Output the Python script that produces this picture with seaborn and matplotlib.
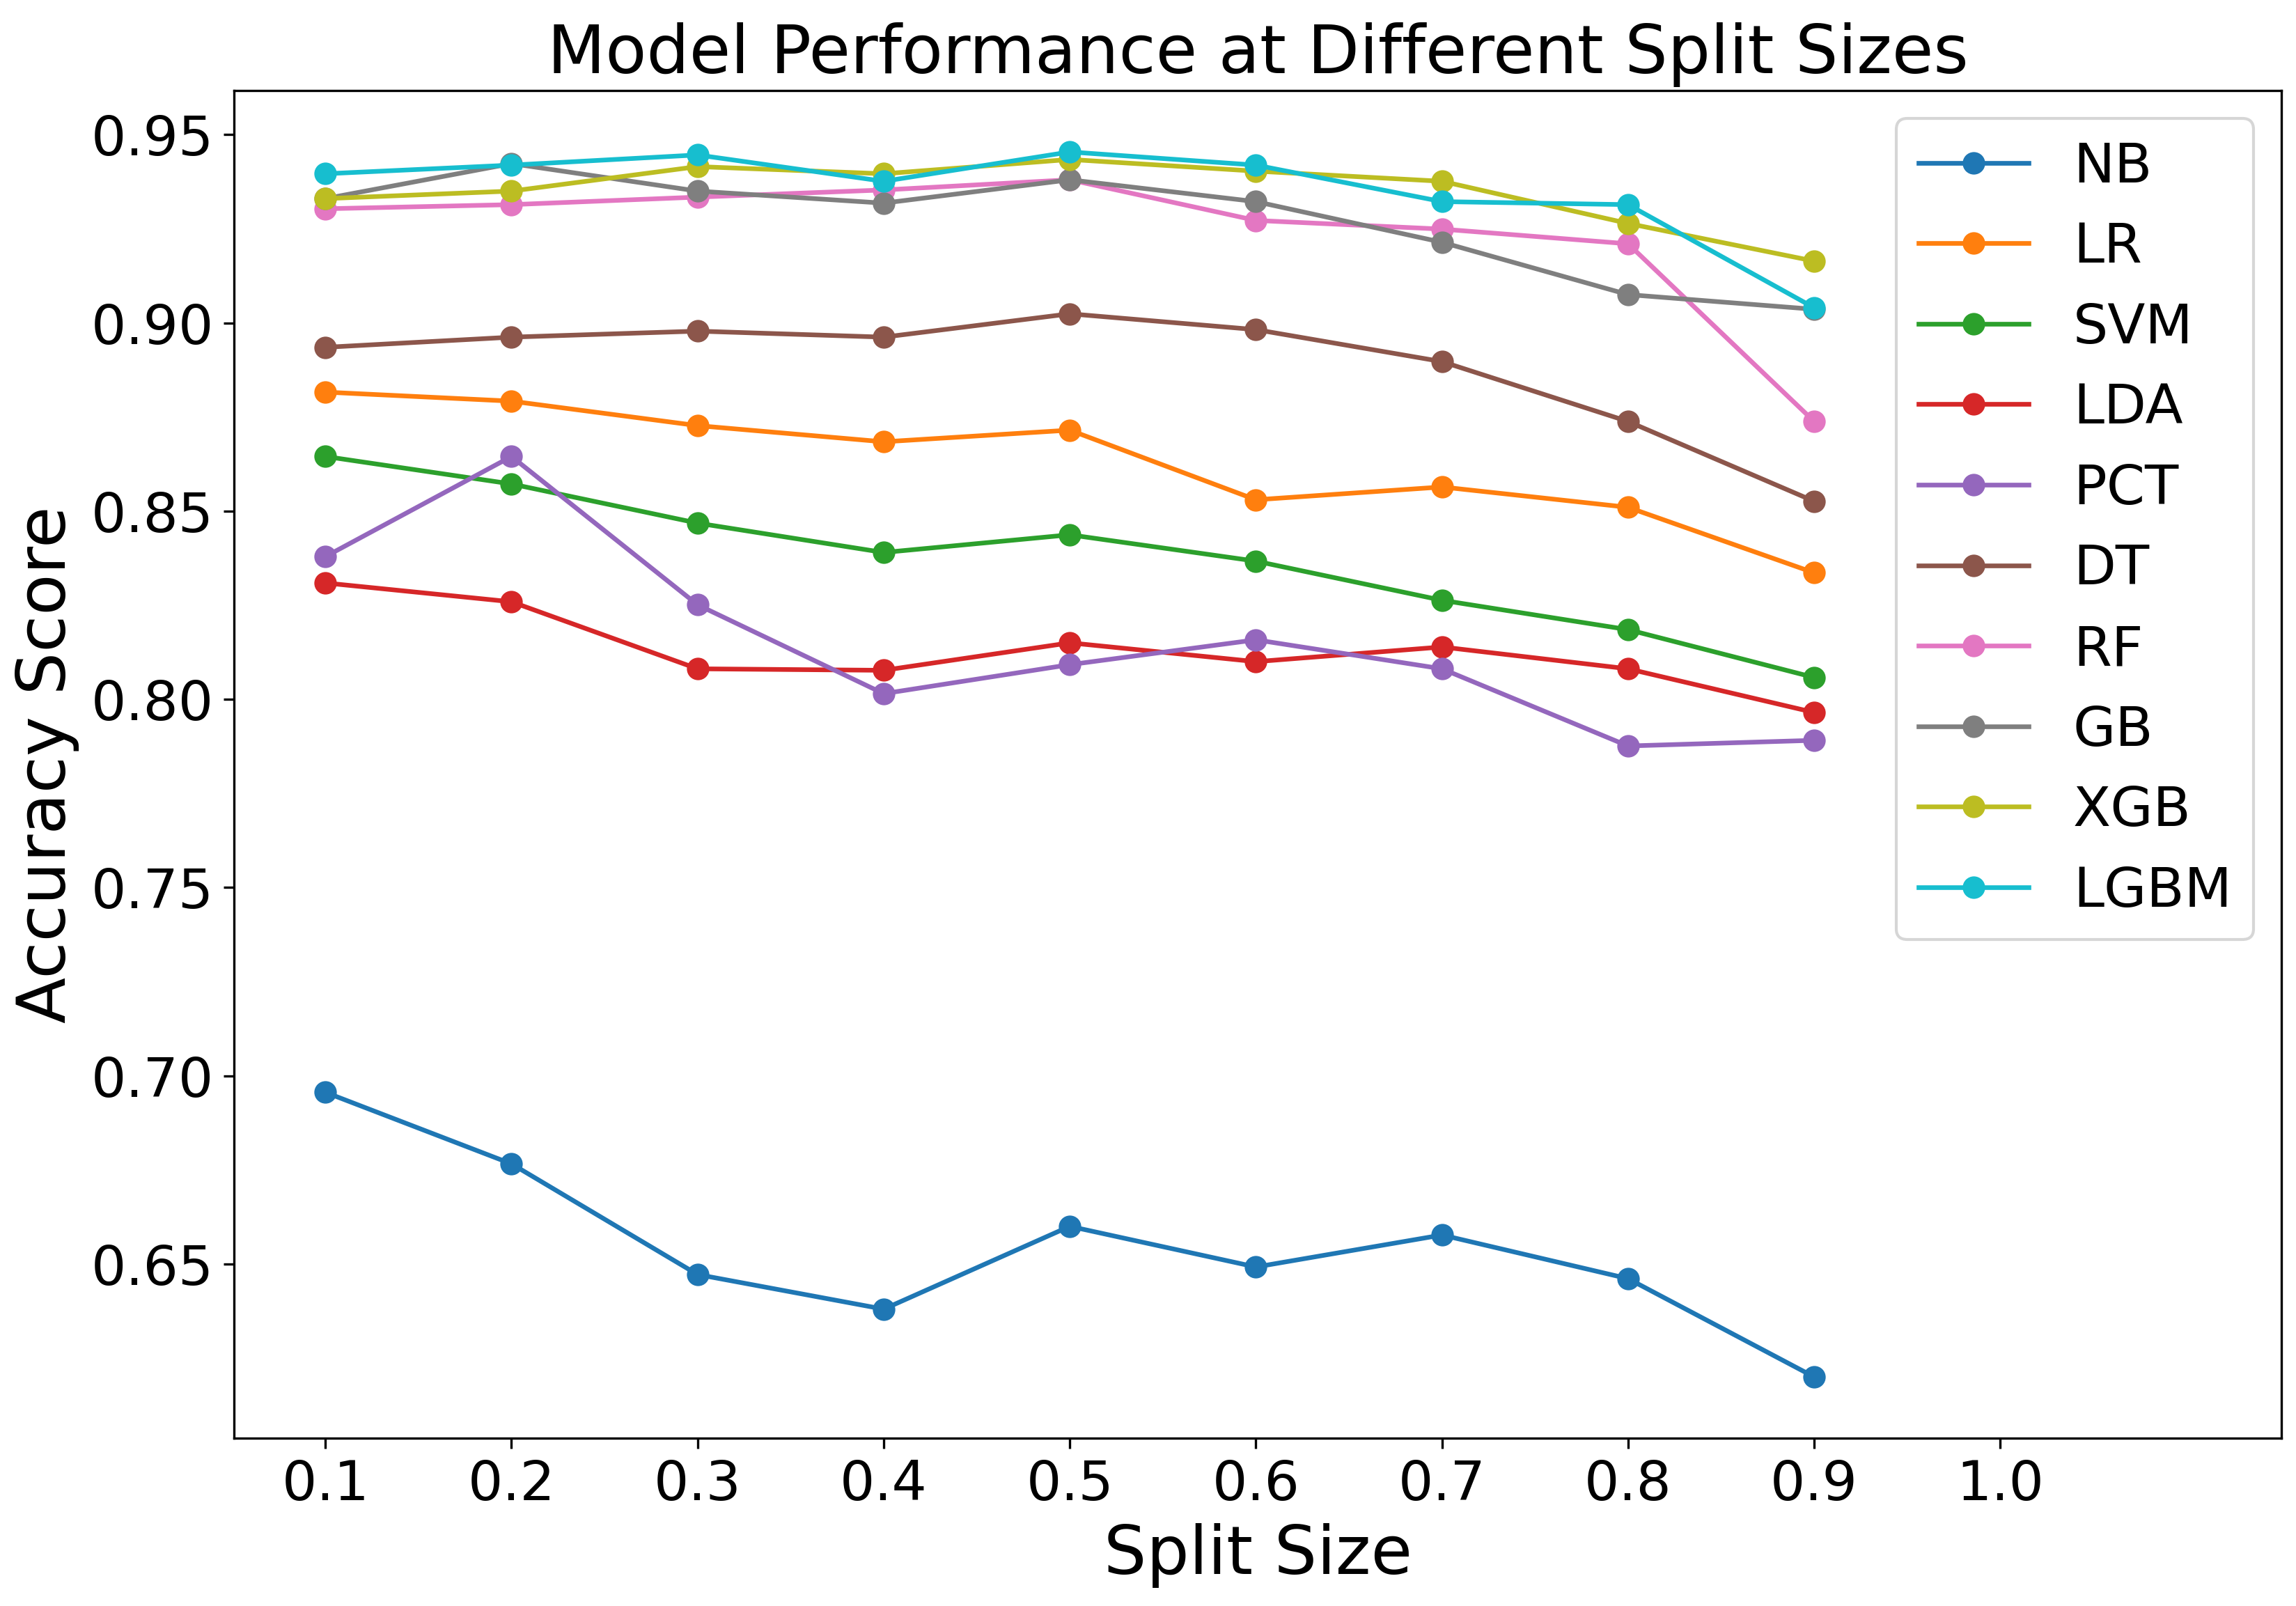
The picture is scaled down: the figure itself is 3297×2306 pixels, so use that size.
import pandas as pd
import seaborn as sns
import matplotlib.pyplot as plt


split_sizes = [0.1, 0.2, 0.3, 0.4, 0.5, 0.6, 0.7, 0.8, 0.9]

nb = [0.6956, 0.6766, 0.6472, 0.6380, 0.6600, 0.6492, 0.6577, 0.6461, 0.6200]
lr = [0.8816, 0.8792, 0.8727, 0.8684, 0.8715, 0.8530, 0.8564, 0.8510, 0.8336]
svm = [0.8645, 0.8572, 0.8468, 0.8390, 0.8437, 0.8367, 0.8263, 0.8185, 0.8058]
lda = [0.8309, 0.8259, 0.8081, 0.8077, 0.8150, 0.8100, 0.8139, 0.8081, 0.7965]
pct = [0.8379, 0.8645, 0.8251, 0.8015, 0.8092, 0.8158, 0.8081, 0.7876, 0.7891]
dt = [0.8935, 0.8962, 0.8978, 0.8962, 0.9024, 0.8982, 0.8897, 0.8738, 0.8526]
rf = [0.9303, 0.9314, 0.9334, 0.9353, 0.9380, 0.9272, 0.9249, 0.9210, 0.8738]
gb = [0.9330, 0.9423, 0.9350, 0.9318, 0.9380, 0.9322, 0.9214, 0.9075, 0.9036]
xgb = [0.9330, 0.9350, 0.9415, 0.9396, 0.9434, 0.9403, 0.9376, 0.9264, 0.9164]
lgbm = [0.9396, 0.9419, 0.9446, 0.9376, 0.9454, 0.9419, 0.9322, 0.9314, 0.9040]

model_names = ['NB', 'LR', 'SVM', 'LDA', 'PCT', 'DT', 'RF', 'GB', 'XGB', 'LGBM']
scores = [nb, lr, svm, lda, pct, dt, rf, gb, xgb, lgbm]
x_ticks = [0.1, 0.2, 0.3, 0.4, 0.5, 0.6, 0.7, 0.8, 0.9, 1.0]


colors = sns.color_palette('tab10', len(model_names))

fig = plt.figure(figsize=(10.99, 7.687), dpi=300)
ax = fig.add_axes([0.102, 0.1045, 0.8916, 0.839])

for name, vals, c in zip(model_names, scores, colors):
    df = pd.DataFrame({'split': split_sizes, 'score': vals})
    sns.lineplot(data=df, x='split', y='score', marker='o', color=c,
                 markeredgecolor=c, markersize=7, linewidth=1.6,
                 label=name, ax=ax)

ax.set_xlim(0.051, 1.151)
ax.set_xticks(x_ticks)
ax.set_xticklabels([f'{t:.1f}' for t in x_ticks])
ax.tick_params(labelsize=19)
ax.set_title('Model Performance at Different Split Sizes', fontsize=23.2)
ax.set_xlabel('Split Size', fontsize=23.2)
ax.set_ylabel('Accuracy Score', fontsize=23.2)
ax.legend(loc='upper right', fontsize=19)

plt.savefig('out.png', dpi=300)
